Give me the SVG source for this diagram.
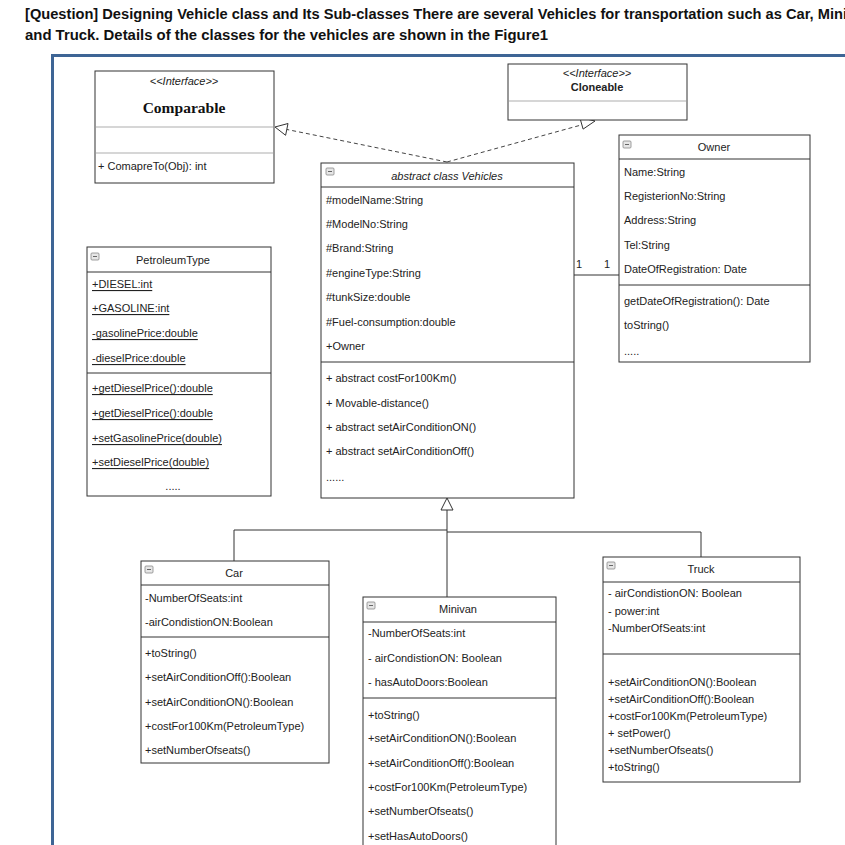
<svg xmlns="http://www.w3.org/2000/svg" width="845" height="845" viewBox="0 0 845 845">
<style>
.t{font-family:"Liberation Sans",Arial,sans-serif;font-size:11px;fill:#222}
.c{text-anchor:middle}
.u{text-decoration:underline}
.box{fill:#fff;stroke:#333;stroke-width:1}
.ln{stroke:#333;stroke-width:1;fill:none}
.lg{stroke:#c8c8c8;stroke-width:1.5;fill:none}
.dash{stroke:#444;stroke-width:1;fill:none;stroke-dasharray:4 3}
.tri{fill:#fff;stroke:#333;stroke-width:1}
.title{font-family:"Liberation Sans",Arial,sans-serif;font-weight:bold;font-size:14.5px;fill:#111}
.ic{fill:#e6e6e6;stroke:#888;stroke-width:0.8}
</style>
<defs>
<g id="minus"><rect class="ic" x="0" y="0" width="8" height="7" rx="1"/><line x1="2" y1="3.5" x2="6" y2="3.5" stroke="#666" stroke-width="1"/></g>
</defs>
<rect width="845" height="845" fill="#fff"/>
<text class="title" x="25" y="19" textLength="822" lengthAdjust="spacingAndGlyphs">[Question] Designing Vehicle class and Its Sub-classes There are several Vehicles for transportation such as Car, Mini</text>
<text class="title" x="25" y="40" textLength="523" lengthAdjust="spacingAndGlyphs">and Truck.  Details of the classes for the vehicles are shown in the Figure1</text>
<rect x="52.5" y="55.5" width="900" height="900" fill="none" stroke="#3e6595" stroke-width="3"/>

<g id="connectors">
<line class="dash" x1="447" y1="162" x2="287" y2="129.5"/>
<polygon class="tri" points="275,127 288,123.5 285.6,135.3"/>
<line class="dash" x1="447" y1="162" x2="583" y2="124.5"/>
<polygon class="tri" points="595,121 583.1,129.1 579.8,117.5"/>
<line class="ln" x1="574" y1="275" x2="619" y2="275"/>
<text class="t" x="576" y="268" font-size="10">1</text>
<text class="t" x="604" y="268" font-size="10">1</text>
<path class="ln" d="M447,510 V597 M447,530 H234 V561 M447,532 H701 V557"/>
<polygon class="tri" points="447,498 441,510 453,510"/>
</g>

<g id="comparable">
<rect class="box" x="95" y="71" width="179" height="112"/>
<line class="lg" x1="96" y1="127" x2="273" y2="127"/>
<line class="lg" x1="96" y1="153" x2="273" y2="153"/>
<text class="t c" x="184" y="81" font-style="italic" font-size="9.5" dominant-baseline="central">&lt;&lt;Interface&gt;&gt;</text>
<text x="184" y="107" text-anchor="middle" dominant-baseline="central" font-family="'Liberation Serif',serif" font-weight="bold" font-size="15.5" fill="#111">Comparable</text>
<text class="t" x="98" y="166" dominant-baseline="central">+ ComapreTo(Obj): int</text>
</g>

<g id="cloneable">
<rect class="box" x="508" y="64" width="179" height="56"/>
<line class="lg" x1="509" y1="101" x2="686" y2="101"/>
<text class="t c" x="597" y="73" font-style="italic" font-size="9.5" dominant-baseline="central">&lt;&lt;Interface&gt;&gt;</text>
<text class="t c" x="597" y="87" font-weight="bold" dominant-baseline="central">Cloneable</text>
</g>

<g id="owner">
<rect class="box" x="619" y="135" width="191" height="227"/>
<line class="ln" x1="619" y1="159" x2="810" y2="159"/>
<line class="ln" x1="619" y1="285" x2="810" y2="285"/>
<use href="#minus" x="623" y="141"/>
<text class="t c" x="714" y="147" dominant-baseline="central">Owner</text>
<text class="t" x="624" y="172" dominant-baseline="central">Name:String</text>
<text class="t" x="624" y="196" dominant-baseline="central">RegisterionNo:String</text>
<text class="t" x="624" y="220" dominant-baseline="central">Address:String</text>
<text class="t" x="624" y="245" dominant-baseline="central">Tel:String</text>
<text class="t" x="624" y="269" dominant-baseline="central">DateOfRegistration: Date</text>
<text class="t" x="624" y="301" dominant-baseline="central">getDateOfRegistration(): Date</text>
<text class="t" x="624" y="325" dominant-baseline="central">toString()</text>
<text class="t" x="624" y="351" font-size="8" dominant-baseline="central">.....</text>
</g>

<g id="vehicles">
<rect class="box" x="321" y="163" width="253" height="335"/>
<line class="ln" x1="321" y1="187" x2="574" y2="187"/>
<line class="ln" x1="321" y1="362" x2="574" y2="362"/>
<use href="#minus" x="326" y="168"/>
<text class="t c" x="447" y="176" font-style="italic" dominant-baseline="central">abstract class Vehicles</text>
<text class="t" x="326" y="200" dominant-baseline="central">#modelName:String</text>
<text class="t" x="326" y="224" dominant-baseline="central">#ModelNo:String</text>
<text class="t" x="326" y="248" dominant-baseline="central">#Brand:String</text>
<text class="t" x="326" y="273" dominant-baseline="central">#engineType:String</text>
<text class="t" x="326" y="297" dominant-baseline="central">#tunkSize:double</text>
<text class="t" x="326" y="322" dominant-baseline="central">#Fuel-consumption:double</text>
<text class="t" x="326" y="346" dominant-baseline="central">+Owner</text>
<text class="t" x="326" y="378" dominant-baseline="central">+ abstract costFor100Km()</text>
<text class="t" x="326" y="403" dominant-baseline="central">+ Movable-distance()</text>
<text class="t" x="326" y="427" dominant-baseline="central">+ abstract setAirConditionON()</text>
<text class="t" x="326" y="451" dominant-baseline="central">+ abstract setAirConditionOff()</text>
<text class="t" x="326" y="477" font-size="8" dominant-baseline="central">......</text>
</g>

<g id="petroleumtype">
<rect class="box" x="87" y="247" width="184" height="249"/>
<line class="ln" x1="87" y1="272" x2="271" y2="272"/>
<line class="ln" x1="87" y1="373" x2="271" y2="373"/>
<use href="#minus" x="91" y="253"/>
<text class="t c" x="173" y="260" dominant-baseline="central">PetroleumType</text>
<text class="t u" x="92" y="284" dominant-baseline="central">+DIESEL:int</text>
<text class="t u" x="92" y="308" dominant-baseline="central">+GASOLINE:int</text>
<text class="t u" x="92" y="333" dominant-baseline="central">-gasolinePrice:double</text>
<text class="t u" x="92" y="358" dominant-baseline="central">-dieselPrice:double</text>
<text class="t u" x="92" y="388" dominant-baseline="central">+getDieselPrice():double</text>
<text class="t u" x="92" y="413" dominant-baseline="central">+getDieselPrice():double</text>
<text class="t u" x="92" y="438" dominant-baseline="central">+setGasolinePrice(double)</text>
<text class="t u" x="92" y="462" dominant-baseline="central">+setDieselPrice(double)</text>
<text class="t c" x="173" y="486" font-size="8" dominant-baseline="central">.....</text>
</g>

<g id="car">
<rect class="box" x="141" y="561" width="188" height="202"/>
<line class="ln" x1="141" y1="585" x2="329" y2="585"/>
<line class="ln" x1="141" y1="637" x2="329" y2="637"/>
<use href="#minus" x="145" y="566"/>
<text class="t c" x="234" y="573" dominant-baseline="central">Car</text>
<text class="t" x="145" y="598" dominant-baseline="central">-NumberOfSeats:int</text>
<text class="t" x="145" y="622" dominant-baseline="central">-airCondistionON:Boolean</text>
<text class="t" x="145" y="653" dominant-baseline="central">+toString()</text>
<text class="t" x="145" y="677" dominant-baseline="central">+setAirConditionOff():Boolean</text>
<text class="t" x="145" y="702" dominant-baseline="central">+setAirConditionON():Boolean</text>
<text class="t" x="145" y="726" dominant-baseline="central">+costFor100Km(PetroleumType)</text>
<text class="t" x="145" y="750" dominant-baseline="central">+setNumberOfseats()</text>
</g>

<g id="minivan">
<rect class="box" x="363" y="597" width="193" height="260"/>
<line class="ln" x1="363" y1="622" x2="556" y2="622"/>
<line class="ln" x1="363" y1="698" x2="556" y2="698"/>
<use href="#minus" x="367" y="602"/>
<text class="t c" x="458" y="609" dominant-baseline="central">Minivan</text>
<text class="t" x="368" y="633" dominant-baseline="central">-NumberOfSeats:int</text>
<text class="t" x="368" y="658" dominant-baseline="central">- airCondistionON: Boolean</text>
<text class="t" x="368" y="682" dominant-baseline="central">- hasAutoDoors:Boolean</text>
<text class="t" x="368" y="715" dominant-baseline="central">+toString()</text>
<text class="t" x="368" y="738" dominant-baseline="central">+setAirConditionON():Boolean</text>
<text class="t" x="368" y="763" dominant-baseline="central">+setAirConditionOff():Boolean</text>
<text class="t" x="368" y="787" dominant-baseline="central">+costFor100Km(PetroleumType)</text>
<text class="t" x="368" y="811" dominant-baseline="central">+setNumberOfseats()</text>
<text class="t" x="368" y="836" dominant-baseline="central">+setHasAutoDoors()</text>
</g>

<g id="truck">
<rect class="box" x="603" y="557" width="197" height="225"/>
<line class="ln" x1="603" y1="582" x2="800" y2="582"/>
<line class="ln" x1="603" y1="654" x2="800" y2="654"/>
<use href="#minus" x="607" y="562"/>
<text class="t c" x="701" y="569" dominant-baseline="central">Truck</text>
<text class="t" x="608" y="593" dominant-baseline="central">- airCondistionON: Boolean</text>
<text class="t" x="608" y="611" dominant-baseline="central">- power:int</text>
<text class="t" x="608" y="628" dominant-baseline="central">-NumberOfSeats:int</text>
<text class="t" x="608" y="682" dominant-baseline="central">+setAirConditionON():Boolean</text>
<text class="t" x="608" y="699" dominant-baseline="central">+setAirConditionOff():Boolean</text>
<text class="t" x="608" y="716" dominant-baseline="central">+costFor100Km(PetroleumType)</text>
<text class="t" x="608" y="733" dominant-baseline="central">+ setPower()</text>
<text class="t" x="608" y="750" dominant-baseline="central">+setNumberOfseats()</text>
<text class="t" x="608" y="767" dominant-baseline="central">+toString()</text>
</g>
</svg>
